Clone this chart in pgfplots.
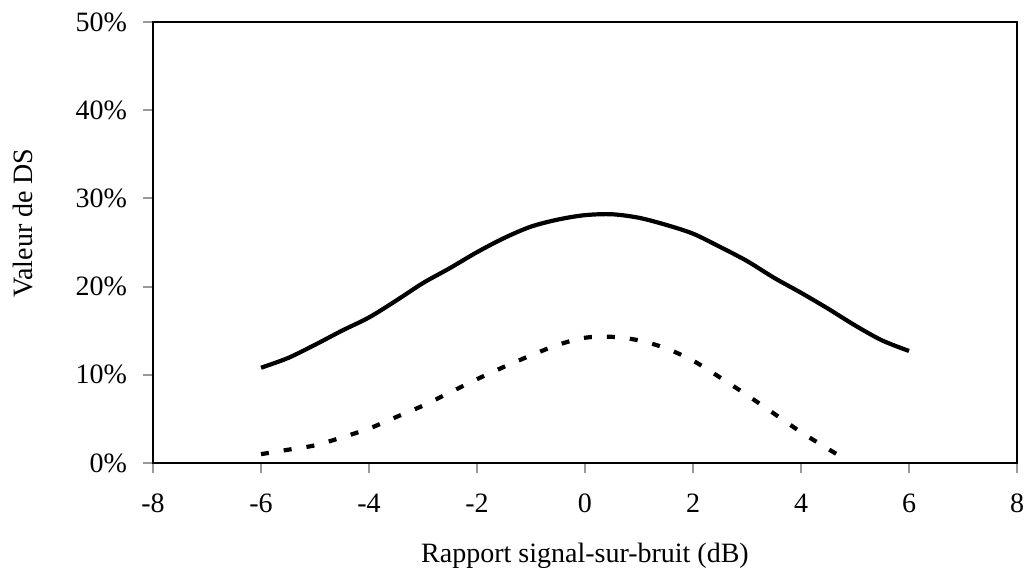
\documentclass[border=0pt]{standalone}
\usepackage{fontspec}
\setmainfont{Liberation Serif}
\usepackage{pgfplots}
\pgfplotsset{compat=1.18}

\begin{document}
\begin{tikzpicture}
\begin{axis}[
  name=ax,
  scale only axis,
  width=432pt, height=220.5pt,
  xmin=-8, xmax=8, ymin=0, ymax=50,
  xtick={-8,-6,...,8},
  xticklabels={-8,-6,-4,-2,0,2,4,6,8},
  ytick={0,10,...,50},
  yticklabels={0\%,10\%,20\%,30\%,40\%,50\%},
  tick align=outside, tick pos=left,
  major tick length=5pt,
  tick style={gray!80, line width=1pt},
  axis line style={line width=1pt},
  tick label style={font=\fontsize{14}{16}\selectfont},
  xticklabel style={yshift=-7pt},
  yticklabel style={xshift=-4.5pt},
  label style={font=\fontsize{14}{17}\selectfont},
  xlabel={Rapport signal-sur-bruit (dB)},
  ylabel={Valeur de DS},
  xlabel style={at={(axis description cs:0.5,0)}, anchor=base, yshift=-50pt},
  ylabel style={at={(axis description cs:-0.1389,0.544)}, anchor=base},
  clip=false,
]
% upper curve
\addplot[black, line width=2.1pt, smooth] coordinates {
  (-6,10.8) (-5.5,11.9) (-5,13.4) (-4.5,15.0) (-4,16.5) (-3.5,18.4)
  (-3,20.4) (-2.5,22.1) (-2,23.9) (-1.5,25.5) (-1,26.8) (-0.5,27.6)
  (0,28.1) (0.5,28.2) (1,27.8) (1.5,27.0) (2,26.0) (2.5,24.5)
  (3,22.9) (3.5,21.0) (4,19.3) (4.5,17.5) (5,15.6) (5.5,13.9) (6,12.7)
};
% lower curve
\addplot[black, line width=2.1pt, smooth, dash pattern=on 4pt off 7.5pt] coordinates {
  (-6,1.0) (-5.5,1.5) (-5,2.0) (-4.5,2.9) (-4,3.9) (-3.5,5.2)
  (-3,6.5) (-2.5,8.0) (-2,9.5) (-1.5,10.9) (-1,12.2) (-0.5,13.4)
  (0,14.2) (0.5,14.3) (1,13.9) (1.5,13.0) (2,11.6) (2.5,9.7)
  (3,7.7) (3.5,5.6) (4,3.5) (4.5,1.6) (4.8,0.5)
};
\end{axis}
\pgfresetboundingbox
\path ([shift={(-76.5pt,-56pt)}]ax.south west) rectangle ([shift={(5pt,11pt)}]ax.north east);
\end{tikzpicture}
\end{document}
